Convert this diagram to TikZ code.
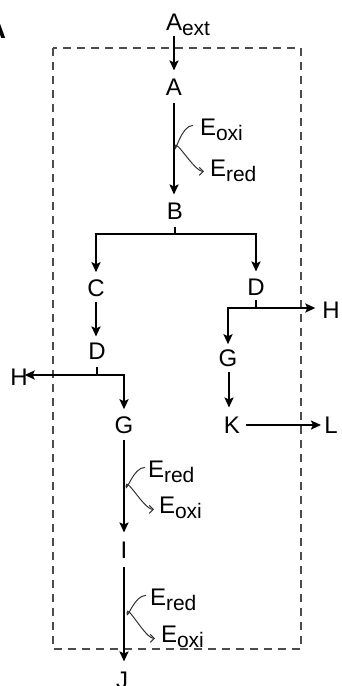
\documentclass[tikz,border=0pt]{standalone}
\usepackage{fontspec}
\setmainfont{Liberation Sans}
\usetikzlibrary{arrows.meta}
\newcommand{\subtxt}[1]{\raisebox{-5pt}{\fontsize{21}{21}\selectfont #1}}
\tikzset{
  lbl/.style={inner sep=0pt, outer sep=0pt, anchor=base, font=\fontsize{24}{28}\selectfont, text=black},
  elbl/.style={lbl, anchor=base west},
  arr/.style={line width=2.8pt, -{Stealth[length=10pt,width=9pt,inset=2pt]}},
  seg/.style={line width=2.8pt},
  thin/.style={line width=1pt, draw=black!80, -{Straight Barb[length=4pt,width=8pt]}},
  cell/.style={draw=black!70, line width=1.3pt, dash pattern=on 8pt off 6pt}
}
\begin{document}
\begin{tikzpicture}[x=1pt,y=-1pt]
\useasboundingbox (0,0) rectangle (342,686);
\clip (0,0) rectangle (342,686);
% panel label (cut off)
\node[lbl, font=\fontsize{28}{30}\selectfont\bfseries] (panel) at (-4,38) {A};
% dashed cell
\draw[cell] (53,48) rectangle (301,649);
% nodes
\node[elbl] (Aext) at (166,30) {A\subtxt{ext}};
\node[lbl] (A) at (174,95) {A};
\node[lbl] (B) at (175,219) {B};
\node[lbl] (C) at (96,296) {C};
\node[lbl] (D2) at (256,295) {D};
\node[lbl] (D1) at (97,359) {D};
\node[lbl] (H1) at (19,385) {H};
\node[lbl] (H2) at (331,318) {H};
\node[lbl] (G2) at (228,366) {G};
\node[lbl] (G1) at (124,433) {G};
\node[lbl] (K) at (232,433) {K};
\node[lbl] (L) at (331,433) {L};
\node[lbl] (I) at (124,558) {I};
\node[lbl] (J) at (122,688) {J};
% enzyme labels
\node[elbl] (Eox1) at (200,135) {E\subtxt{oxi}};
\node[elbl] (Ere1) at (210,176) {E\subtxt{red}};
\node[elbl] (Ere2) at (148,477) {E\subtxt{red}};
\node[elbl] (Eox2) at (159,513) {E\subtxt{oxi}};
\node[elbl] (Ere3) at (150,605) {E\subtxt{red}};
\node[elbl] (Eox3) at (161,642) {E\subtxt{oxi}};
% main path
\draw[arr] ([yshift=-1pt]Aext.south -| A) -- ([yshift=8pt]A.north);
\draw[arr] ([yshift=-8pt]A.south) -- ([yshift=8pt]A.north |- B.north);
% branch at B
\coordinate (bj) at ([yshift=-15pt]B.south);
\draw[seg] ([yshift=-8pt]B.south) -- (bj);
\draw[arr] (bj) -| ([yshift=7pt]C.north);
\draw[arr] (bj) -| ([yshift=7pt]D2.north);
% left branch
\draw[arr] ([yshift=-6pt]C.south) -- ([yshift=6pt]C.north |- D1.north);
\coordinate (dj1) at ([yshift=-16pt]D1.south);
\draw[seg] ([yshift=-8pt]D1.south) -- (dj1);
\draw[arr] (dj1) -- ([xshift=-3pt]H1.east |- dj1);
\draw[arr] (dj1) -| ([yshift=7pt]G1.north);
\draw[arr] ([yshift=-7pt]G1.south) -- ([yshift=9pt]G1.north |- I.north);
\draw[arr] ([yshift=-9pt]I.south) -- ([yshift=10pt]I.south |- J.north);
% right branch
\coordinate (dj2) at ([yshift=-13pt]D2.south);
\draw[seg] ([yshift=-5pt]D2.south) -- (dj2);
\draw[arr] (dj2) -- ([xshift=-7pt]H2.west |- dj2);
\draw[arr] (dj2) -| ([yshift=5pt]G2.north);
\draw[arr] ([yshift=-6pt]G2.south -| K.north) ++(-3pt,0) -- ([xshift=-3pt,yshift=9pt]K.north);
\draw[arr] ([xshift=14pt,yshift=8pt]K.base) -- ([xshift=-10pt,yshift=8pt]L.base);
% redox curves
\draw[thin] ([xshift=-7pt,yshift=4pt]Eox1.west) .. controls +(-12pt,0pt) and +(0pt,-8pt) .. ([xshift=1pt]A.south |- 0,147) .. controls +(0pt,10pt) and +(-10pt,0pt) .. ([xshift=-6pt,yshift=-1pt]Ere1.west);
\draw[thin] ([xshift=-3pt,yshift=4pt]Ere2.west) .. controls +(-12pt,0pt) and +(0pt,-8pt) .. ([xshift=2pt]G1.south |- 0,486) .. controls +(0pt,10pt) and +(-10pt,0pt) .. ([xshift=-5pt,yshift=-2pt]Eox2.west);
\draw[thin] ([xshift=-4pt,yshift=4pt]Ere3.west) .. controls +(-12pt,0pt) and +(0pt,-8pt) .. ([xshift=3pt]I.south |- 0,613) .. controls +(0pt,10pt) and +(-10pt,0pt) .. ([xshift=-6pt,yshift=-2pt]Eox3.west);
\end{tikzpicture}
\end{document}
